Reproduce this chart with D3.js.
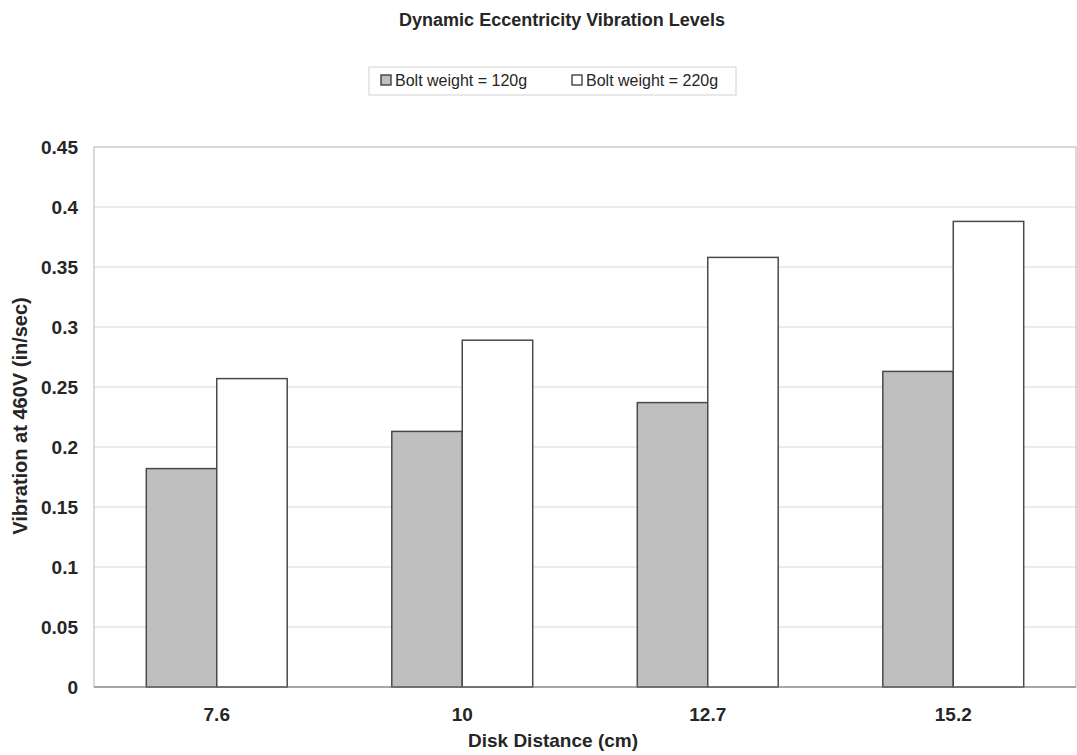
<!DOCTYPE html>
<html>
<head>
<meta charset="utf-8">
<script src="https://cdn.jsdelivr.net/npm/d3@7"></script>
<style>
  html, body { margin: 0; padding: 0; background: #fff; }
  svg { display: block; font-family: "Liberation Sans", Arial, sans-serif; }
</style>
</head>
<body>
<svg id="chart" width="1077" height="755"></svg>
<script>
// Disk distances (cm) and vibration readings (in/sec) for each bolt weight
const categories = ["7.6", "10", "12.7", "15.2"];
const seriesNames = ["Bolt weight = 120g", "Bolt weight = 220g"];
const bolt120 = [0.182, 0.213, 0.237, 0.263];
const bolt220 = [0.257, 0.289, 0.358, 0.388];
const yTicks = [0, 0.05, 0.1, 0.15, 0.2, 0.25, 0.3, 0.35, 0.4, 0.45];

const svg = d3.select("#chart");
const margin = { left: 94, top: 147, right: 1, bottom: 68 };
const W = 1077, H = 755;
const iw = W - margin.left - margin.right;
const ih = H - margin.top - margin.bottom;

const x = d3.scaleBand().domain(categories).range([0, iw]).paddingInner(0.426).paddingOuter(0.213);
const xs = d3.scaleBand().domain([0, 1]).range([0, x.bandwidth()]);
const y = d3.scaleLinear().domain([0, 0.45]).range([ih, 0]);

const ink = "#262626";

// Title
svg.append("text").attr("x", 562).attr("y", 26).attr("text-anchor", "middle")
  .attr("font-size", 18).attr("font-weight", "bold").attr("fill", ink)
  .text("Dynamic Eccentricity Vibration Levels");

// Legend
const fills = ["#bfbfbf", "#ffffff"];
const lg = svg.append("g");
lg.append("rect").attr("x", 369).attr("y", 67).attr("width", 367).attr("height", 28)
  .attr("fill", "#fff").attr("stroke", "#d2d2d2").attr("stroke-width", 1);
const legendX = [381, 572];
seriesNames.forEach((s, i) => {
  lg.append("rect").attr("x", legendX[i]).attr("y", 75).attr("width", 10).attr("height", 10)
    .attr("fill", fills[i]).attr("stroke", "#333").attr("stroke-width", 1.3);
  lg.append("text").attr("x", legendX[i] + 14).attr("y", 86)
    .attr("font-size", 16).attr("fill", ink).text(s);
});

const g = svg.append("g").attr("transform", `translate(${margin.left},${margin.top})`);

// Gridlines
g.selectAll(".grid").data(yTicks.filter(t => t > 0 && t < 0.45)).enter().append("line")
  .attr("x1", 0).attr("x2", iw).attr("y1", d => y(d)).attr("y2", d => y(d))
  .attr("stroke", "#d8d8d8").attr("stroke-width", 1);

// Plot frame
g.append("rect").attr("x", 0).attr("y", 0).attr("width", iw).attr("height", ih)
  .attr("fill", "none").attr("stroke", "#c0c0c0").attr("stroke-width", 1.2);

// Bars
const rows = categories.map((c, i) => ({ c, vals: [bolt120[i], bolt220[i]] }));
const grp = g.selectAll(".cat").data(rows).enter().append("g")
  .attr("transform", d => `translate(${x(d.c)},0)`);
grp.selectAll("rect").data(d => d.vals.map((v, k) => ({ v, k }))).enter().append("rect")
  .attr("x", d => xs(d.k)).attr("width", xs.bandwidth())
  .attr("y", d => y(d.v)).attr("height", d => y(0) - y(d.v))
  .attr("fill", d => fills[d.k]).attr("stroke", "#4a4a4a").attr("stroke-width", 1.5);

// Baseline
g.append("line").attr("x1", 0).attr("x2", iw).attr("y1", ih).attr("y2", ih)
  .attr("stroke", "#777").attr("stroke-width", 1.2);

// Y axis labels
const yAxis = d3.axisLeft(y).tickValues(yTicks).tickSize(0).tickPadding(16)
  .tickFormat(d => d === 0 ? "0" : String(+d.toFixed(2)));
const ya = g.append("g").call(yAxis);
ya.select(".domain").remove();
ya.selectAll("text").attr("font-size", 19).attr("font-weight", "bold").attr("fill", ink)
  .attr("font-family", "Liberation Sans, Arial, sans-serif");

// X axis labels
const xAxis = d3.axisBottom(x).tickSize(0).tickPadding(21);
const xa = g.append("g").attr("transform", `translate(0,${ih})`).call(xAxis);
xa.select(".domain").remove();
xa.selectAll("text").attr("font-size", 19).attr("font-weight", "bold").attr("fill", ink)
  .attr("font-family", "Liberation Sans, Arial, sans-serif");

// Axis titles
svg.append("text").attr("x", 553).attr("y", 747).attr("text-anchor", "middle")
  .attr("font-size", 19).attr("font-weight", "bold").attr("fill", ink)
  .text("Disk Distance (cm)");
svg.append("text").attr("transform", "translate(27,416) rotate(-90)").attr("text-anchor", "middle")
  .attr("font-size", 20).attr("font-weight", "bold").attr("fill", ink)
  .text("Vibration at 460V (in/sec)");
</script>
</body>
</html>
